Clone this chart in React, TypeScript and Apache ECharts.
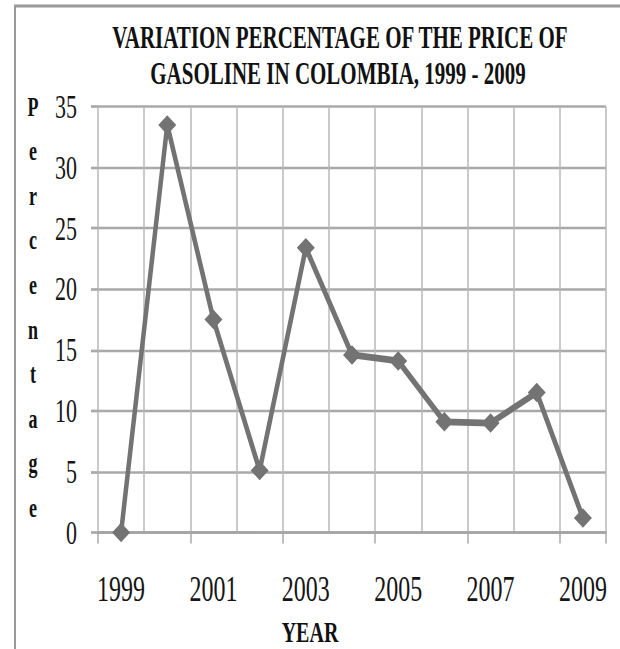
import { useEffect, useRef } from "react";
import * as echarts from "echarts";

const years = ["1999", "2000", "2001", "2002", "2003", "2004", "2005", "2006", "2007", "2008", "2009"];
const variation = [0, 33.5, 17.5, 5.1, 23.4, 14.6, 14.1, 9.1, 9.0, 11.5, 1.2];
const yMin = 0;
const yMax = 35;
const yStep = 5;
const titleLines = ["VARIATION PERCENTAGE OF THE PRICE OF", "GASOLINE IN COLOMBIA, 1999 - 2009"];
const yName = "Percentage";
const xName = "YEAR";

const S = 1.5; // vertical stretch of the original picture
const W = 620;
const H = 649 / S;
const FONT = '"Liberation Serif", "Times New Roman", serif';
const GRAY = "#737373";

export default function App() {
  const ref = useRef<HTMLDivElement>(null);
  useEffect(() => {
    if (!ref.current) return;
    const chart = echarts.init(ref.current, null, { renderer: "svg" });
    const gridTop = 106.7 / S;
    const gridBottomY = 532 / S;
    chart.setOption({
      animation: false,
      backgroundColor: "#ffffff",
      grid: { left: 98, right: 14, top: gridTop, bottom: H - gridBottomY },
      xAxis: {
        type: "category",
        data: years,
        boundaryGap: true,
        axisLine: { show: true, lineStyle: { color: "#a3a3a3", width: 1.8 } },
        axisTick: { show: true, interval: 1, length: 7.3, lineStyle: { color: "#a8a8a8", width: 1.5 } },
        axisLabel: {
          interval: 1,
          margin: 26,
          fontFamily: FONT,
          fontSize: 24,
          color: "#151515",
        },
        splitLine: { show: true, interval: 0, lineStyle: { color: "#b8b8b8", width: 1.5 } },
      },
      yAxis: {
        type: "value",
        min: yMin,
        max: yMax,
        interval: yStep,
        axisLine: { show: false },
        axisTick: { show: true, length: 7, lineStyle: { color: "#a9a9a9", width: 1.8 } },
        axisLabel: { margin: 21, fontFamily: FONT, fontSize: 22, color: "#151515" },
        splitLine: { show: true, lineStyle: { color: "#a9a9a9", width: 1.8 } },
      },
      series: [
        {
          type: "line",
          data: variation,
          symbol: "diamond",
          symbolSize: [18, 13],
          lineStyle: { color: GRAY, width: 4.5 },
          itemStyle: { color: GRAY },
          z: 5,
        },
      ],
      graphic: [
        {
          type: "polyline",
          shape: { points: [[15, H], [15, 4], [W, 4]] },
          style: { stroke: "#9a9a9a", lineWidth: 2, fill: "none" },
          silent: true,
        },
        {
          type: "text",
          x: 340,
          y: 37 / S,
          style: {
            text: titleLines[0],
            fontFamily: FONT,
            fontWeight: "bold",
            fontSize: 21,
            fill: "#111",
            align: "center",
            verticalAlign: "middle",
          },
        },
        {
          type: "text",
          x: 338,
          y: 73 / S,
          style: {
            text: titleLines[1],
            fontFamily: FONT,
            fontWeight: "bold",
            fontSize: 21,
            fill: "#111",
            align: "center",
            verticalAlign: "middle",
          },
        },
        {
          type: "text",
          x: 33,
          y: 107 / S - 14.85,
          style: {
            text: yName.split("").join("\n"),
            fontFamily: FONT,
            fontWeight: "bold",
            fontSize: 18,
            lineHeight: 29.7,
            fill: "#111",
            align: "center",
            verticalAlign: "top",
          },
        },
        {
          type: "text",
          x: 310,
          y: 632 / S,
          style: {
            text: xName,
            fontFamily: FONT,
            fontWeight: "bold",
            fontSize: 20,
            fill: "#111",
            align: "center",
            verticalAlign: "middle",
          },
        },
      ],
    });
    return () => chart.dispose();
  }, []);
  return (
    <div
      style={{
        position: "absolute",
        left: 0,
        top: 0,
        width: W,
        height: 649,
        overflow: "hidden",
        background: "#fff",
      }}
    >
      <div
        ref={ref}
        style={{ width: W, height: H, transform: `scaleY(${S})`, transformOrigin: "0 0" }}
      />
    </div>
  );
}
